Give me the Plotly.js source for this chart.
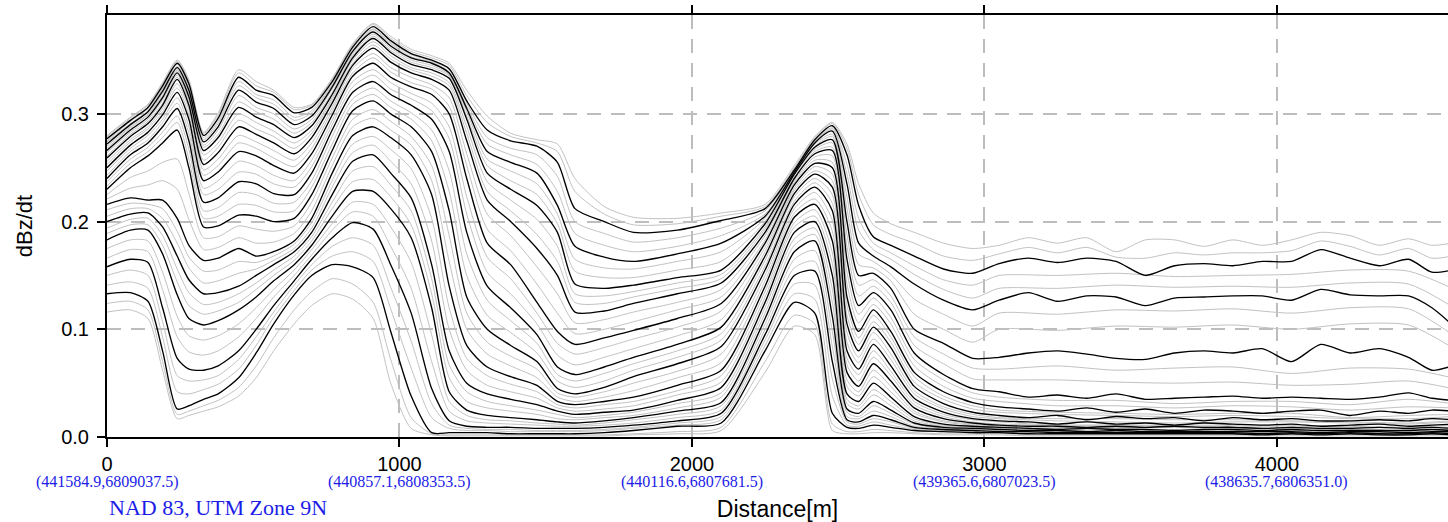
<!DOCTYPE html>
<html><head><meta charset="utf-8">
<script src="https://cdn.plot.ly/plotly-3.0.1.min.js"></script>
<style>html,body{margin:0;padding:0;background:#fff}#chart{width:1448px;height:522px}</style>
</head><body><div id="chart"></div>
<script>
const distance = [0,80,140,190,240,280,330,380,450,510,570,640,700,770,840,910,970,1040,1110,1170,1230,1300,1380,1470,1540,1600,1700,1800,1950,2100,2250,2350,2420,2480,2530,2570,2620,2680,2760,2860,2960,3050,3150,3250,3350,3450,3550,3650,3750,3850,3950,4050,4150,4250,4350,4450,4530,4600];
const grayDistance = [0,80,140,190,240,280,330,380,450,510,570,640,700,770,840,910,970,1040,1110,1170,1230,1300,1380,1470,1540,1600,1700,1800,1950,2100,2250,2350,2420,2480,2530,2570,2620,2680,2760,2860,2960,3050,3250,3450,3650,3850,4050,4250,4450,4600];

// black channels (every third)
const B1 = [.277,.294,.306,.326,.347,.328,.280,.296,.334,.322,.317,.301,.306,.330,.362,.381, .368,.356,.350,.342,.312,.285,.275, .270,.255,.212,.200,.190,.192,.201,.212,.248,.276,.289, .262,.215,.186,.178,.168,.156,.152, .161,.166,.162,.166,.163,.150,.159,.161,.159,.163,.163,.174,.166,.159,.165,.153,.155];
const B2 = [.272,.290,.302,.321,.343,.322,.274,.288,.322,.311,.305,.290,.298,.325,.358,.376, .363,.352,.347,.338,.305,.265,.255, .245,.215,.177,.167,.163,.170,.180,.205,.246,.273,.284, .235,.180,.168,.158,.142,.127,.118, .127,.134,.126,.131,.130,.122,.129,.130,.131,.131,.127,.137,.132,.131,.131,.120,.104];
const B3 = [.266,.285,.297,.315,.338,.316,.266,.278,.306,.297,.290,.278,.289,.318,.352,.370, .357,.346,.341,.333,.295,.245,.230, .215,.190,.142,.138,.141,.148,.155,.198,.244,.269,.276, .200,.150,.152,.138,.100,.087,.073, .074,.078,.080,.077,.073,.072,.078,.080,.078,.082,.070,.086,.078,.082,.074,.062,.066];
const B4 = [.259,.279,.291,.308,.332,.308,.253,.264,.288,.281,.273,.263,.278,.310,.345,.361, .348,.338,.332,.322,.275,.220,.200, .175,.150,.116,.117,.124,.133,.143,.190,.240,.263,.266, .165,.122,.134,.118,.078,.058,.045, .042,.037,.039,.036,.040,.035,.036,.037,.038,.036,.037,.036,.035,.037,.041,.036,.034];
const B5 = [.250,.271,.283,.299,.320,.295,.238,.246,.265,.261,.252,.245,.263,.299,.335,.347, .334,.325,.318,.300,.240,.180,.160, .125,.098,.086,.092,.099,.110,.124,.180,.234,.254,.250, .130,.098,.118,.098,.060,.042,.032, .028,.026,.024,.027,.023,.026,.022,.025,.024,.022,.024,.025,.020,.024,.022,.025,.024];
const B6 = [.240,.262,.273,.288,.305,.275,.218,.222,.237,.235,.226,.225,.245,.285,.320,.330, .318,.308,.295,.265,.190,.140,.120, .095,.065,.058,.065,.074,.086,.102,.168,.226,.244,.232, .105,.080,.102,.083,.047,.031,.023, .020,.018,.020,.016,.019,.017,.018,.015,.018,.016,.017,.015,.015,.016,.015,.017,.016];
const B7 = [.230,.250,.261,.273,.285,.250,.195,.196,.206,.205,.200,.203,.225,.266,.303,.312, .300,.288,.265,.210,.130,.100,.085, .070,.045,.040,.046,.056,.068,.084,.155,.216,.232,.210, .080,.063,.086,.066,.036,.023,.017, .015,.014,.012,.014,.012,.013,.011,.013,.012,.011,.012,.010,.011,.012,.010,.011,.012];
const B8 = [.216,.222,.220,.220,.203,.178,.164,.166,.175,.168,.172,.182,.203,.245,.280,.288, .278,.262,.225,.140,.085,.065,.056, .048,.033,.030,.033,.037,.048,.062,.140,.204,.216,.182, .060,.047,.068,.052,.027,.017,.013, .011,.010,.010,.009,.010,.009,.010,.009,.009,.008,.009,.008,.008,.009,.008,.009,.008];
const B9 = [.200,.207,.208,.195,.168,.146,.133,.134,.140,.150,.160,.172,.190,.225,.256,.262, .245,.222,.160,.080,.050,.040,.035, .030,.024,.021,.023,.025,.034,.046,.125,.190,.200,.150, .040,.033,.050,.037,.019,.012,.010, .009,.008,.007,.008,.007,.007,.006,.007,.007,.006,.007,.006,.006,.006,.006,.007,.006];
const B10 = [.183,.192,.192,.170,.132,.110,.104,.108,.118,.130,.145,.160,.178,.205,.228,.228, .212,.185,.120,.042,.025,.020,.018, .016,.014,.013,.015,.018,.024,.032,.110,.172,.182,.112, .026,.022,.033,.025,.013,.009,.008, .007,.006,.006,.005,.006,.005,.005,.005,.005,.005,.005,.004,.005,.005,.004,.005,.005];
const B11 = [.158,.165,.162,.120,.073,.063,.062,.066,.080,.100,.122,.145,.165,.185,.199,.193, .160,.115,.045,.015,.010,.009,.009, .008,.008,.008,.009,.011,.015,.022,.095,.150,.154,.070, .016,.014,.020,.016,.009,.007,.006, .005,.005,.004,.004,.004,.004,.004,.004,.004,.003,.004,.003,.004,.003,.003,.004,.003];
const B12 = [.133,.134,.126,.080,.026,.029,.035,.040,.055,.078,.105,.132,.150,.160,.158,.148, .098,.038,.004,.004,.004,.004,.003, .003,.003,.003,.004,.006,.010,.013,.080,.125,.115,.022, .009,.008,.011,.009,.006,.005,.004, .004,.003,.003,.003,.003,.003,.003,.003,.003,.002,.003,.002,.003,.002,.002,.003,.002];

// gray channels above the first black and below the last black (on `distance`)
const G1 = [.280,.297,.309,.329,.350,.332,.283,.301,.341,.330,.322,.306,.309,.333,.365,.384, .372,.360,.354,.347,.322,.298,.282, .276,.272,.240,.214,.204,.203,.208,.216,.252,.279,.292, .272,.235,.208,.198,.190,.180,.175, .178,.185,.180,.185,.172,.183,.183,.177,.183,.178,.183,.190,.187,.178,.184,.178,.180];
const G2 = [.279,.296,.308,.328,.349,.330,.282,.299,.338,.326,.320,.304,.308,.332,.364,.383, .370,.358,.352,.345,.317,.292,.279, .273,.265,.228,.207,.197,.198,.205,.214,.250,.278,.291, .268,.225,.197,.188,.180,.168,.164, .170,.176,.171,.176,.167,.166,.171,.169,.171,.171,.173,.182,.177,.169,.175,.166,.168];
const G37 = [.124,.126,.118,.070,.021,.024,.029,.034,.046,.066,.092,.118,.135,.147,.142,.125, .072,.018,.003,.002,.002,.002,.002, .002,.002,.002,.002,.003,.005,.009,.070,.113,.105,.012, .005,.005,.007,.006,.004,.003,.003, .003,.002,.002,.002,.002,.002,.002,.002,.002,.002,.002,.002,.002,.002,.002,.002,.002];
const G38 = [.116,.118,.110,.062,.017,.020,.024,.028,.038,.055,.080,.105,.122,.133,.128,.110, .050,.008,.002,.001,.001,.001,.001, .001,.001,.001,.001,.002,.003,.006,.060,.103,.095,.006, .003,.003,.004,.004,.003,.002,.002, .002,.001,.001,.001,.001,.001,.001,.001,.001,.001,.001,.001,.001,.001,.001,.001,.001];

// gray channels between black ones (on `grayDistance`)
const GA12 = [.275,.293,.305,.324,.346,.326,.278,.293,.330,.318,.313,.297,.303,.328,.361,.379,.366,.355,.349,.341,.310,.278,.268,.262,.242,.200,.189,.181,.185,.194,.210,.247,.275,.287,.253,.203,.180,.171,.159,.146,.141, .150,.150,.152,.149,.150,.151,.155,.154,.138];
const GB12 = [.274,.291,.303,.323,.344,.324,.276,.291,.326,.315,.309,.294,.301,.327,.359,.378,.365,.353,.348,.339,.307,.272,.262,.253,.228,.189,.178,.172,.177,.187,.207,.247,.274,.286,.244,.192,.174,.165,.151,.137,.129, .138,.138,.141,.139,.140,.139,.143,.142,.121];
const GA23 = [.270,.288,.300,.319,.341,.320,.271,.285,.317,.306,.300,.286,.295,.323,.356,.374,.361,.350,.345,.336,.302,.258,.247,.235,.207,.165,.157,.156,.163,.172,.203,.245,.272,.281,.223,.170,.163,.151,.128,.114,.103, .115,.114,.118,.117,.119,.115,.120,.119,.095];
const GB23 = [.268,.287,.299,.317,.340,.318,.269,.281,.311,.302,.295,.282,.292,.320,.354,.372,.359,.348,.343,.335,.298,.252,.238,.225,.198,.154,.148,.148,.155,.163,.200,.245,.270,.279,.212,.160,.157,.145,.114,.100,.088, .100,.099,.103,.102,.104,.100,.105,.104,.083];
const GA34 = [.264,.283,.295,.313,.336,.313,.262,.273,.300,.292,.284,.273,.285,.315,.350,.367,.354,.343,.338,.329,.288,.237,.220,.202,.177,.133,.131,.135,.143,.151,.195,.243,.267,.273,.188,.141,.146,.131,.093,.077,.064, .063,.066,.062,.064,.065,.059,.064,.063,.055];
const GB34 = [.261,.281,.293,.310,.334,.311,.257,.269,.294,.286,.279,.268,.282,.313,.347,.364,.351,.341,.335,.326,.282,.228,.210,.188,.163,.125,.124,.130,.138,.147,.193,.241,.265,.269,.177,.131,.140,.125,.085,.068,.054, .053,.053,.051,.050,.051,.048,.049,.052,.045];
const GA45 = [.256,.276,.288,.305,.328,.304,.248,.258,.280,.274,.266,.257,.273,.306,.342,.356,.343,.334,.327,.315,.263,.207,.187,.158,.133,.106,.109,.116,.125,.137,.187,.238,.260,.261,.153,.114,.129,.111,.072,.053,.041, .037,.034,.034,.031,.033,.033,.030,.035,.031];
const GB45 = [.253,.274,.286,.302,.324,.299,.243,.252,.273,.268,.259,.251,.268,.303,.338,.352,.339,.329,.323,.307,.252,.193,.173,.142,.115,.096,.100,.107,.118,.130,.183,.236,.257,.255,.142,.106,.123,.105,.066,.047,.036, .033,.029,.029,.027,.029,.028,.025,.028,.027];
const GA56 = [.247,.268,.280,.295,.315,.288,.231,.238,.256,.252,.243,.238,.257,.294,.330,.341,.329,.319,.310,.288,.223,.167,.147,.115,.087,.077,.083,.091,.102,.117,.176,.231,.251,.244,.122,.092,.113,.093,.056,.038,.029, .025,.023,.022,.021,.022,.022,.018,.020,.021];
const GB56 = [.243,.265,.276,.292,.310,.282,.225,.230,.246,.244,.235,.232,.251,.290,.325,.336,.323,.314,.303,.277,.207,.153,.133,.105,.076,.067,.074,.082,.094,.109,.172,.229,.247,.238,.113,.086,.107,.088,.051,.035,.026, .023,.021,.020,.019,.020,.019,.017,.017,.019];
const GA67 = [.237,.258,.269,.283,.298,.267,.210,.213,.227,.225,.217,.218,.238,.279,.314,.324,.312,.301,.285,.247,.170,.127,.108,.087,.058,.052,.059,.068,.080,.096,.164,.223,.240,.225,.097,.074,.097,.077,.043,.028,.021, .018,.017,.017,.016,.016,.015,.014,.013,.015];
const GB67 = [.233,.254,.265,.278,.292,.258,.203,.205,.216,.215,.209,.210,.232,.272,.309,.318,.306,.295,.275,.228,.150,.113,.097,.078,.052,.046,.052,.062,.074,.090,.159,.219,.236,.217,.088,.069,.091,.072,.040,.026,.019, .017,.015,.014,.013,.014,.014,.013,.012,.014];
const GA78 = [.225,.241,.247,.255,.258,.226,.185,.186,.196,.193,.191,.196,.218,.259,.295,.304,.293,.279,.252,.187,.115,.088,.075,.063,.041,.037,.042,.050,.061,.077,.150,.212,.227,.201,.073,.058,.080,.061,.033,.021,.016, .014,.011,.011,.011,.011,.011,.010,.009,.011];
const GB78 = [.221,.231,.234,.238,.230,.202,.174,.176,.185,.180,.181,.189,.210,.252,.288,.296,.285,.271,.238,.163,.100,.077,.066,.055,.037,.033,.037,.043,.055,.069,.145,.208,.221,.191,.067,.052,.074,.057,.030,.019,.014, .012,.011,.011,.010,.010,.010,.009,.009,.009];
const GA89 = [.211,.217,.216,.212,.191,.167,.154,.155,.163,.162,.168,.179,.199,.238,.272,.279,.267,.249,.203,.120,.073,.057,.049,.042,.030,.027,.030,.033,.043,.057,.135,.199,.211,.171,.053,.042,.062,.047,.024,.015,.012, .010,.009,.009,.009,.008,.008,.007,.007,.007];
const GB89 = [.205,.212,.212,.203,.180,.157,.143,.145,.152,.156,.164,.175,.194,.232,.264,.271,.256,.235,.182,.100,.062,.048,.042,.036,.027,.024,.026,.029,.039,.051,.130,.195,.205,.161,.047,.038,.056,.042,.022,.014,.011, .009,.008,.008,.007,.008,.008,.007,.007,.007];
const GA910 = [.194,.202,.203,.187,.156,.134,.123,.125,.133,.143,.155,.168,.186,.218,.247,.251,.234,.210,.147,.067,.042,.033,.029,.025,.021,.018,.020,.023,.031,.041,.120,.184,.194,.137,.035,.029,.044,.033,.017,.011,.009, .008,.006,.006,.006,.006,.006,.006,.005,.006];
const GB910 = [.189,.197,.197,.178,.144,.122,.114,.117,.125,.137,.150,.164,.182,.212,.237,.239,.223,.197,.133,.055,.033,.027,.024,.021,.017,.016,.018,.020,.027,.037,.115,.178,.188,.125,.031,.026,.039,.029,.015,.010,.009, .007,.007,.006,.006,.006,.006,.005,.005,.005];
const GA1011 = [.175,.183,.182,.153,.112,.094,.090,.094,.105,.120,.137,.155,.174,.198,.218,.216,.195,.162,.095,.033,.020,.016,.015,.013,.012,.011,.013,.016,.021,.029,.105,.165,.173,.098,.023,.019,.029,.022,.012,.008,.007, .006,.005,.005,.005,.005,.005,.005,.004,.004];
const GB1011 = [.166,.174,.172,.137,.093,.079,.076,.080,.093,.110,.130,.150,.169,.192,.209,.205,.177,.138,.070,.024,.015,.013,.012,.011,.010,.010,.011,.013,.018,.025,.100,.157,.163,.084,.019,.017,.024,.019,.010,.008,.007, .006,.005,.005,.004,.004,.004,.004,.004,.004];
const GA1112 = [.150,.155,.150,.107,.057,.052,.053,.057,.072,.093,.116,.141,.160,.177,.185,.178,.139,.089,.031,.011,.008,.007,.007,.006,.006,.006,.007,.009,.013,.019,.090,.142,.141,.054,.014,.012,.017,.014,.008,.006,.005, .004,.004,.004,.004,.004,.003,.003,.003,.003];
const GB1112 = [.141,.144,.138,.093,.042,.040,.044,.049,.063,.085,.111,.136,.155,.168,.172,.163,.119,.064,.018,.008,.006,.006,.005,.005,.005,.005,.006,.008,.011,.016,.085,.133,.128,.038,.011,.010,.014,.011,.007,.006,.005, .004,.004,.003,.003,.003,.003,.003,.003,.003];

const blackLines = [B1,B2,B3,B4,B5,B6,B7,B8,B9,B10,B11,B12];
const edgeGrayLines = [G1,G2,G37,G38];
const innerGrayLines = [GA12,GB12,GA23,GB23,GA34,GB34,GA45,GB45,GA56,GB56,GA67,GB67,GA78,GB78,GA89,GB89,GA910,GB910,GA1011,GB1011,GA1112,GB1112];
const xTicks = [0,1000,2000,3000,4000];
const xTickText = ['0','1000','2000','3000','4000'];
const utmLabels = ['(441584.9,6809037.5)','(440857.1,6808353.5)','(440116.6,6807681.5)','(439365.6,6807023.5)','(438635.7,6806351.0)'];
const yTicks = [0,0.1,0.2,0.3];
const yTickText = ['0.0','0.1','0.2','0.3'];

const grayStyle = {color: '#c2c2c2', width: 1, shape: 'spline', smoothing: 0.7};
const blackStyle = {color: '#000000', width: 1.35, shape: 'spline', smoothing: 0.7};
const traces = [];
edgeGrayLines.forEach(y => traces.push({x: distance, y: y, type: 'scatter', mode: 'lines', line: grayStyle, hoverinfo: 'skip'}));
innerGrayLines.forEach(y => traces.push({x: grayDistance, y: y, type: 'scatter', mode: 'lines', line: grayStyle, hoverinfo: 'skip'}));
blackLines.forEach(y => traces.push({x: distance, y: y, type: 'scatter', mode: 'lines', line: blackStyle, hoverinfo: 'skip'}));

const blue = '#1c1ce8';
const annotations = utmLabels.map((t, i) => ({
  x: xTicks[i], xref: 'x', y: -0.107, yref: 'paper', text: t, showarrow: false,
  xanchor: 'center', yanchor: 'middle', font: {family: 'Liberation Serif, Times New Roman, serif', size: 16, color: blue}
}));
annotations.push({x: 0, xref: 'x', y: -0.166, yref: 'paper', text: 'NAD 83, UTM Zone 9N', showarrow: false,
  xanchor: 'left', yanchor: 'middle', font: {family: 'Liberation Serif, Times New Roman, serif', size: 22, color: blue}});

const layout = {
  width: 1448, height: 522,
  margin: {l: 107, r: 0, t: 15, b: 85},
  showlegend: false,
  paper_bgcolor: '#ffffff', plot_bgcolor: '#ffffff',
  font: {family: 'Liberation Sans, Arial, sans-serif', size: 20, color: '#000'},
  xaxis: {
    range: [0, 4585], tickmode: 'array', tickvals: xTicks, ticktext: xTickText,
    ticks: 'outside', ticklen: 8, tickwidth: 2, tickcolor: '#000',
    showline: true, linewidth: 2, linecolor: '#000', mirror: 'ticks',
    showgrid: true, gridcolor: '#bdbdbd', gridwidth: 2, griddash: '14px,10px',
    zeroline: false, automargin: false,
    tickfont: {size: 20},
    title: {text: 'Distance[m]', font: {size: 23}, standoff: 30}
  },
  yaxis: {
    range: [0, 0.3918], tickmode: 'array', tickvals: yTicks, ticktext: yTickText,
    ticks: 'outside', ticklen: 8, tickwidth: 2, tickcolor: '#000',
    showline: true, linewidth: 2, linecolor: '#000', mirror: false,
    showgrid: true, gridcolor: '#bdbdbd', gridwidth: 2, griddash: '14px,10px',
    zeroline: false, automargin: false,
    tickfont: {size: 20}, ticklabelstandoff: 4,
    title: {text: 'dBz/dt', font: {size: 22}, standoff: 22}
  },
  annotations: annotations
};

Plotly.newPlot('chart', traces, layout, {staticPlot: true, displayModeBar: false});
</script></body></html>
